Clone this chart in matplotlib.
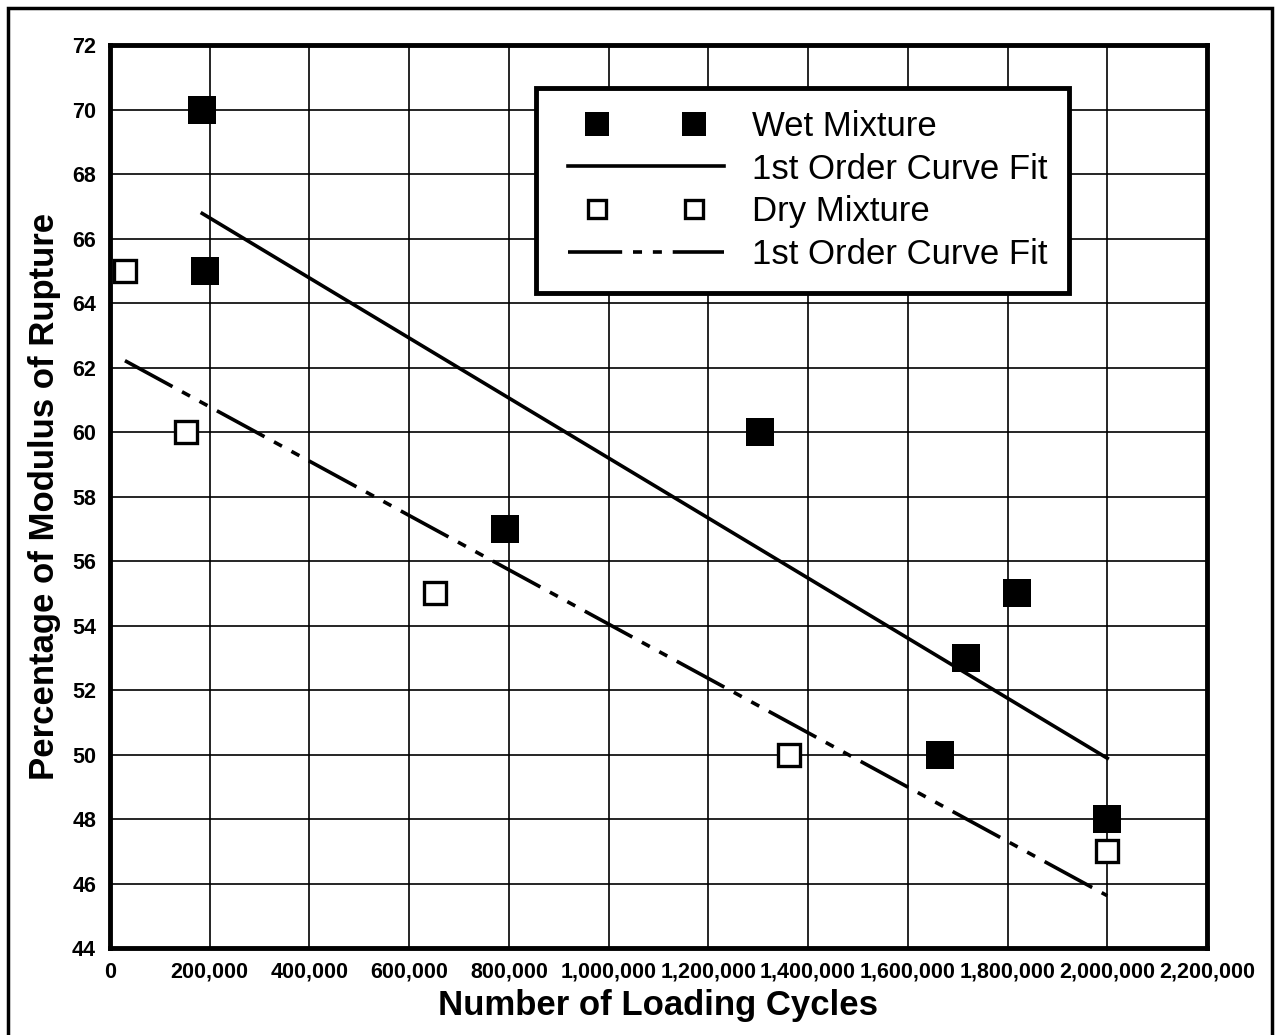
import numpy as np
import matplotlib
matplotlib.use('Agg')
from matplotlib import pyplot as plt
from matplotlib.patches import Rectangle
from matplotlib.ticker import FuncFormatter
from matplotlib.legend_handler import HandlerLine2D

# data
wet_cycles = [185000, 190000, 792000, 1304000, 1664000, 1716000, 1819000, 2000000]
wet_mor = [70, 65, 57, 60, 50, 53, 55, 48]
dry_cycles = [30000, 153000, 651000, 1361000, 2000000]
dry_mor = [65, 60, 55, 50, 47]

x_ticks = np.arange(0, 2200001, 200000)
y_ticks = np.arange(44, 73, 2)

plt.rcParams['font.family'] = ['Liberation Sans', 'DejaVu Sans']

fig = plt.figure(figsize=(12.79, 10.35), dpi=100)
ax = fig.add_axes([0.086, 0.084, 0.8577, 0.8725])

# outer frame round the whole chart
fig.patches.append(Rectangle((0.0063, -0.02), 0.9882, 1.0123, transform=fig.transFigure,
	fill=False, edgecolor='black', linewidth=2.5, clip_on=False))

def fit_line(xs, ys):
	k, b = np.polyfit(xs, ys, 1)
	xx = np.array([min(xs), max(xs)])
	return xx, k*xx + b

wet_pts, = ax.plot(wet_cycles, wet_mor, 's', color='black', markersize=20.5, markeredgewidth=0,
	label='Wet Mixture', zorder=4)
xx, yy = fit_line(wet_cycles, wet_mor)
ax.plot(xx, yy, '-', color='black', linewidth=2.6, label='1st Order Curve Fit', zorder=3)
dry_pts, = ax.plot(dry_cycles, dry_mor, 's', color='black', markerfacecolor='white', markersize=15.5,
	markeredgewidth=2.4, label='Dry Mixture', zorder=4)
xx, yy = fit_line(dry_cycles, dry_mor)
ax.plot(xx, yy, color='black', linewidth=2.6, linestyle=(0, (15, 3, 2.5, 3, 2.5, 3)),
	label='1st Order Curve Fit', zorder=3)

ax.set_xlim(0, 2200000)
ax.set_ylim(44, 72)
ax.set_xticks(x_ticks)
ax.set_yticks(y_ticks)
ax.xaxis.set_major_formatter(FuncFormatter(lambda v, p: '{:,.0f}'.format(v)))
ax.grid(True, color='black', linewidth=1.2)
ax.set_axisbelow(True)
ax.tick_params(length=0, pad=10, labelsize=15.5)
for lab in ax.get_xticklabels() + ax.get_yticklabels():
	lab.set_fontweight('bold')
for s in ax.spines.values():
	s.set_linewidth(3.5)

ax.set_xlabel('Number of Loading Cycles', fontsize=25, fontweight='bold', labelpad=4)
ax.set_ylabel('Percentage of Modulus of Rupture', fontsize=25, fontweight='bold', labelpad=8)

# legend markers sit inward from the ends of the handle
hmap = {wet_pts: HandlerLine2D(marker_pad=1.15), dry_pts: HandlerLine2D(marker_pad=1.15)}
leg = ax.legend(loc='upper left', bbox_to_anchor=(0.388, 0.952), numpoints=2, fontsize=25,
	handlelength=5.1, handletextpad=0.5, labelspacing=0.28, borderpad=0.62,
	fancybox=False, framealpha=1, edgecolor='black', borderaxespad=0,
	markerscale=0.85, handler_map=hmap)
leg.get_frame().set_linewidth(3.5)

fig.savefig('out.png', dpi=100, facecolor='white')
